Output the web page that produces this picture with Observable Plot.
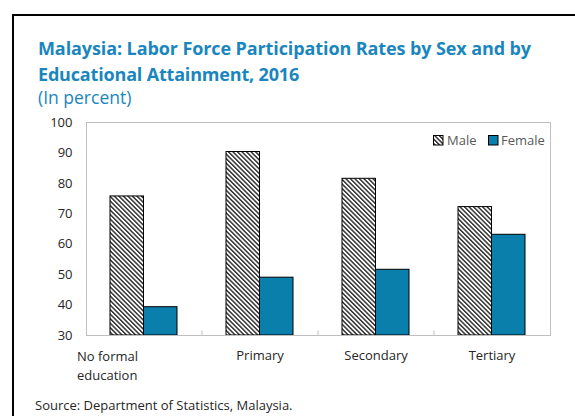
<!DOCTYPE html>
<html>
<head>
<meta charset="utf-8">
<script src="https://cdn.jsdelivr.net/npm/d3@7"></script>
<script src="https://cdn.jsdelivr.net/npm/@observablehq/plot@0.6"></script>
<style>
  html, body { margin: 0; padding: 0; background: #fff; overflow: hidden; }
  #page { position: relative; width: 575px; height: 416px; overflow: hidden; background: #fff; font-family: "Open Sans", sans-serif; }
  #box { position: absolute; left: 12px; top: 14px; width: 700px; height: 600px; border: 2px solid #000; box-sizing: border-box; }
  .title { position: absolute; left: 38px; font-weight: 700; font-size: 18px; line-height: 26px; color: #1a86bd; white-space: nowrap; }
  #subtitle { position: absolute; left: 38px; top: 87px; font-size: 17.5px; line-height: 20px; color: #1a86bd; white-space: nowrap; }
  #chart { position: absolute; left: 0; top: 110px; }
  #source { position: absolute; left: 35px; top: 397px; font-size: 13px; line-height: 16px; color: #262626; white-space: nowrap; }
  .leg { position: absolute; font-size: 13px; line-height: 16px; color: #595959; white-space: nowrap; }
  .sw { position: absolute; }
</style>
</head>
<body>
<svg width="0" height="0" style="position:absolute">
  <defs>
    <pattern id="hatch" patternUnits="userSpaceOnUse" width="3.2" height="3.2" patternTransform="rotate(-45)">
      <rect width="3.2" height="3.2" fill="#fff"></rect>
      <rect width="1.5" height="3.2" fill="#333"></rect>
    </pattern>
  </defs>
</svg>
<div id="page">
  <div id="box"></div>
  <div class="title" id="t1" style="top:35px">Malaysia: Labor Force Participation Rates by Sex and by</div>
  <div class="title" id="t2" style="top:61px">Educational Attainment, 2016</div>
  <div id="subtitle">(In percent)</div>
  <div id="chart"></div>
  <svg class="sw" style="left:433px;top:135px" width="11" height="11"><rect x="0.5" y="0.5" width="9.5" height="9.5" fill="url(#hatch)" stroke="#000"></rect></svg>
  <div class="leg" style="left:447px;top:132px">Male</div>
  <svg class="sw" style="left:488px;top:135px" width="11" height="11"><rect x="0.5" y="0.5" width="9.5" height="9.5" fill="#0a7fab" stroke="#000"></rect></svg>
  <div class="leg" style="left:501px;top:132px">Female</div>
  <div id="source">Source: Department of Statistics, Malaysia.</div>
</div>
<script>
const categories = ["No formal education", "Primary", "Secondary", "Tertiary"];
const tickLabels = ["No formal\neducation", "Primary", "Secondary", "Tertiary"];
const maleValues = [75.7, 90.3, 81.5, 72.2];
const femaleValues = [39.3, 49.0, 51.6, 63.1];
const yTicks = [30, 40, 50, 60, 70, 80, 90, 100];

const data = categories.map((c, i) => ({cat: c, male: maleValues[i], female: femaleValues[i]}));
const yMin = yTicks[0], yMax = yTicks[yTicks.length - 1];

// fit title lines to reference widths
function fit(id, target) {
  const el = document.getElementById(id);
  const w = el.getBoundingClientRect().width;
  const n = el.textContent.length;
  el.style.letterSpacing = ((target - w) / n) + "px";
}
fit("t1", 493);
fit("t2", 261);

const W = 575, ML = 86, MR = 25;
const step = (W - ML - MR) / categories.length;
const bw = step * (1 - 0.4224);
const fmt = d => tickLabels[categories.indexOf(d)];

const chart = Plot.plot({
  width: W,
  height: 290,
  marginLeft: ML,
  marginRight: MR,
  marginTop: 12,
  marginBottom: 65,
  style: {fontFamily: "Open Sans, sans-serif", fontSize: "13px", color: "#262626", background: "transparent"},
  x: {domain: categories, paddingInner: 0.4224, paddingOuter: 0.2112},
  y: {domain: [yMin, yMax]},
  marks: [
    Plot.barY(data, {x: "cat", y1: yMin, y2: "male", fill: "url(#hatch)", stroke: "#000", strokeWidth: 1, insetRight: bw / 2}),
    Plot.barY(data, {x: "cat", y1: yMin, y2: "female", fill: "#0a7fab", stroke: "#000", strokeWidth: 1, insetLeft: bw / 2}),
    Plot.frame({stroke: "#bfbfbf", strokeWidth: 1}),
    Plot.ruleX(categories.slice(0, -1), {x: d => d, y1: yMin, y2: yMin + 1.5, dx: step / 2, stroke: "#bfbfbf"}),
    Plot.axisY({ticks: yTicks, tickSize: 0, tickPadding: 14, label: null}),
    Plot.axisX({ticks: categories.slice(1), tickFormat: fmt, tickSize: 0, tickPadding: 15, label: null}),
    Plot.axisX({ticks: categories.slice(0, 1), tickFormat: fmt, tickSize: 0, tickPadding: 13, label: null, textAnchor: "start", dx: -67, lineHeight: 1.4})
  ]
});
document.getElementById("chart").appendChild(chart);
</script>
</body>
</html>
